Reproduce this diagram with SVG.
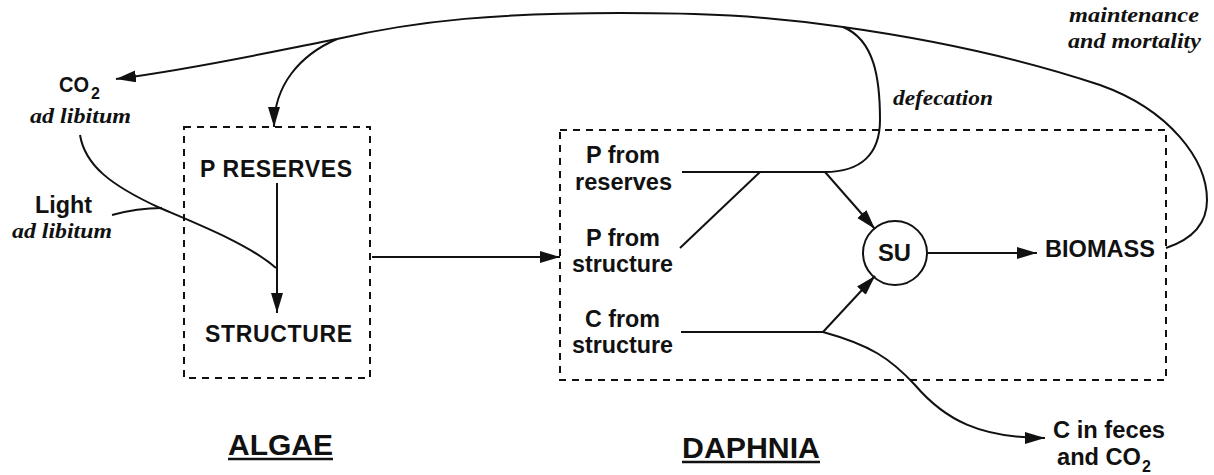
<svg xmlns="http://www.w3.org/2000/svg" width="1214" height="475" viewBox="0 0 1214 475">
  <style>
    .lbl { font-family: "Liberation Sans", Arial, sans-serif; font-weight: bold; font-size: 23px; fill: #111; }
    .co { font-family: "Liberation Sans", Arial, sans-serif; font-weight: bold; font-size: 22px; fill: #111; }
    .sub { font-family: "Liberation Sans", Arial, sans-serif; font-weight: bold; font-size: 16px; fill: #111; }
    .ital { font-family: "Liberation Serif", "Times New Roman", serif; font-weight: bold; font-style: italic; font-size: 21px; fill: #111; }
    .title { font-family: "Liberation Sans", Arial, sans-serif; font-weight: bold; font-size: 30px; fill: #111; }
    .box { fill: none; stroke: #111; stroke-width: 2; stroke-dasharray: 7 6; }
    .ln { fill: none; stroke: #111; stroke-width: 2; }
    .ul { stroke: #111; stroke-width: 2.5; }
  </style>
  <defs>
    <marker id="ah" markerUnits="userSpaceOnUse" markerWidth="22" markerHeight="13" refX="20" refY="6" orient="auto">
      <path d="M0,0 L20,6 L0,12 z" fill="#111"/>
    </marker>
  </defs>
  <rect width="1214" height="475" fill="#fff"/>

  <!-- compartments -->
  <g id="algae">
    <rect class="box" x="184" y="127" width="186" height="251"/>
    <text class="lbl" x="200" y="177" textLength="152" lengthAdjust="spacing">P RESERVES</text>
    <text class="lbl" x="205" y="342" textLength="147" lengthAdjust="spacing">STRUCTURE</text>
    <text class="title" x="228" y="455" textLength="105" lengthAdjust="spacingAndGlyphs">ALGAE</text>
    <line class="ul" x1="228" y1="459" x2="333" y2="459"/>
  </g>

  <g id="daphnia">
    <rect class="box" x="560" y="130" width="606" height="250"/>
    <text class="lbl" x="586" y="163" textLength="74" lengthAdjust="spacingAndGlyphs">P from</text>
    <text class="lbl" x="575" y="190" textLength="97" lengthAdjust="spacingAndGlyphs">reserves</text>
    <text class="lbl" x="586" y="246" textLength="74" lengthAdjust="spacingAndGlyphs">P from</text>
    <text class="lbl" x="572" y="272" textLength="101" lengthAdjust="spacingAndGlyphs">structure</text>
    <text class="lbl" x="585" y="327" textLength="75" lengthAdjust="spacingAndGlyphs">C from</text>
    <text class="lbl" x="572" y="353" textLength="101" lengthAdjust="spacingAndGlyphs">structure</text>
    <text class="lbl" x="1045" y="257" textLength="110" lengthAdjust="spacingAndGlyphs">BIOMASS</text>
    <text class="title" x="682" y="458" textLength="138" lengthAdjust="spacingAndGlyphs">DAPHNIA</text>
    <line class="ul" x1="682" y1="462" x2="820" y2="462"/>
  </g>

  <g id="su">
    <circle cx="895" cy="253" r="32" fill="#fff" stroke="#111" stroke-width="2"/>
    <text class="lbl" x="878" y="261" textLength="33" lengthAdjust="spacingAndGlyphs">SU</text>
  </g>

  <g id="co2-in">
    <text class="co" x="59" y="92" textLength="30" lengthAdjust="spacingAndGlyphs">CO</text>
    <text class="sub" x="91" y="99">2</text>
    <text class="ital" x="30" y="123" textLength="101" lengthAdjust="spacingAndGlyphs">ad libitum</text>
  </g>

  <g id="light">
    <text class="lbl" x="35" y="213" textLength="57" lengthAdjust="spacingAndGlyphs">Light</text>
    <text class="ital" x="12" y="238" textLength="100" lengthAdjust="spacingAndGlyphs">ad libitum</text>
  </g>

  <g id="c-out">
    <text class="lbl" x="1053" y="438" textLength="112" lengthAdjust="spacingAndGlyphs">C in feces</text>
    <text class="lbl" x="1057" y="465" textLength="84" lengthAdjust="spacingAndGlyphs">and CO</text>
    <text class="sub" x="1142" y="472">2</text>
  </g>

  <g id="flux-labels">
    <text class="ital" x="893" y="105" textLength="100" lengthAdjust="spacingAndGlyphs">defecation</text>
    <text class="ital" x="1069" y="22" textLength="130" lengthAdjust="spacingAndGlyphs">maintenance</text>
    <text class="ital" x="1068" y="48" textLength="133" lengthAdjust="spacingAndGlyphs">and mortality</text>
  </g>

  <!-- connectors -->
  <g id="connectors">
    <!-- inside algae -->
    <line class="ln" x1="277" y1="183" x2="277" y2="268"/>
    <line class="ln" x1="277" y1="268" x2="277" y2="313" stroke-width="3" marker-end="url(#ah)"/>
    <path class="ln" d="M80,135 C85,165 110,185 160,208 C200,225 250,245 276,268"/>
    <path class="ln" d="M112,215 C130,210 145,208 162,208"/>

    <!-- ingestion -->
    <line class="ln" x1="372" y1="257" x2="560" y2="257" stroke-width="2.5" marker-end="url(#ah)"/>

    <!-- P streams into SU -->
    <line class="ln" x1="682" y1="172" x2="825" y2="172"/>
    <line class="ln" x1="680" y1="248" x2="760" y2="172"/>
    <line class="ln" x1="825" y1="172" x2="875" y2="229" marker-end="url(#ah)"/>

    <!-- C stream into SU and out -->
    <line class="ln" x1="681" y1="332" x2="823" y2="332"/>
    <line class="ln" x1="823" y1="332" x2="875" y2="276" marker-end="url(#ah)"/>
    <path class="ln" d="M823,332 C870,345 890,358 915,385 C945,420 980,438 1045,438" marker-end="url(#ah)"/>

    <!-- growth -->
    <line class="ln" x1="928" y1="253" x2="1037" y2="253" marker-end="url(#ah)"/>

    <!-- defecation loop -->
    <path class="ln" d="M825,172 C860,172 880,155 880,120 C880,80 875,40 843,27"/>

    <!-- maintenance and mortality, returning over the top -->
    <path class="ln" d="M1166,248 C1190,240 1207,225 1207,200 C1207,160 1170,110 1100,85 C1040,65 950,42 843,27 C760,15 700,13 620,13 C500,13 420,20 337,39 C270,52 200,68 116,79" marker-end="url(#ah)"/>
    <path class="ln" d="M337,39 C300,55 274,85 274,127" marker-end="url(#ah)"/>
  </g>
</svg>
